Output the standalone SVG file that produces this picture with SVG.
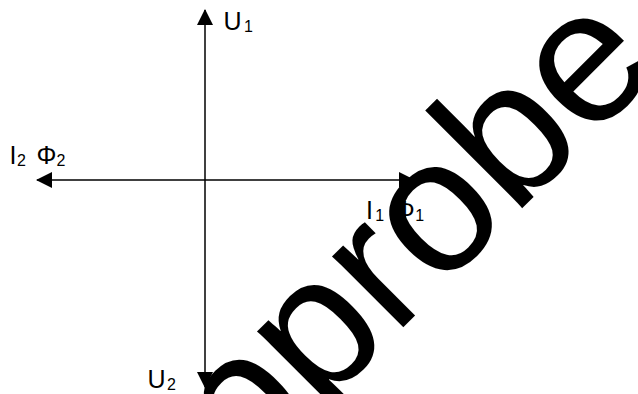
<svg xmlns="http://www.w3.org/2000/svg" width="638" height="394" viewBox="0 0 638 394">
<style>
.ax{stroke:#000;stroke-width:1.5;fill:none}
.lb{font-family:"Liberation Sans",Arial,sans-serif;font-size:25px;fill:#000}
.sub{font-size:16px}
.wm{font-family:"Liberation Sans",Arial,sans-serif;font-size:190px;fill:#000}
</style>
<defs>
<marker id="ah" markerWidth="16" markerHeight="16" refX="15" refY="8" orient="auto" markerUnits="userSpaceOnUse">
<path d="M0,0 L16,8 L0,16 Z" fill="#000"/>
</marker>
</defs>
<rect width="638" height="394" fill="#fff"/>
<g id="connectors">
<line class="ax" x1="205" y1="180" x2="205" y2="10" marker-end="url(#ah)"/>
<line class="ax" x1="205" y1="180" x2="205" y2="387" marker-end="url(#ah)"/>
<line class="ax" x1="205" y1="180" x2="37" y2="180" marker-end="url(#ah)"/>
<line class="ax" x1="205" y1="180" x2="414" y2="180" marker-end="url(#ah)"/>
</g>
<g id="U1"><text class="lb" x="223.5" y="30">U<tspan class="sub" x="244" y="32">1</tspan></text></g>
<g id="I2Phi2"><text class="lb" x="9.5" y="164">I<tspan class="sub" x="17" y="166">2</tspan><tspan x="36.5" y="164">Φ</tspan><tspan class="sub" x="56.5" y="166">2</tspan></text></g>
<g id="I1Phi1"><text class="lb" x="366" y="219">I<tspan class="sub" x="375.3" y="221">1</tspan><tspan x="394.8" y="219">Φ</tspan><tspan class="sub" x="415.3" y="221">1</tspan></text></g>
<g id="U2"><text class="lb" x="147.5" y="388">U<tspan class="sub" x="167" y="390">2</tspan></text></g>
<g id="watermark"><text class="wm" transform="translate(244.6,486) rotate(-45)">pprobe</text></g>
</svg>
